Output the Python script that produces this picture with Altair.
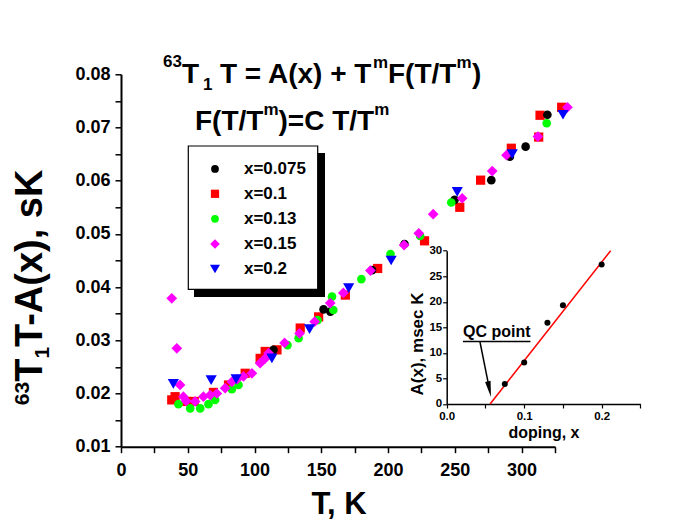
import altair as alt
import pandas as pd

FONT = "Liberation Sans"

# ---------------- data ----------------
series = ["x=0.075", "x=0.1", "x=0.13", "x=0.15", "x=0.2"]
colors = ["#000000", "#ff0000", "#00ff00", "#ff00ff", "#0000ff"]
shapes = ["circle", "square", "circle", "diamond", "triangle-down"]
sizes = [75, 85, 75, 115, 125]

T_0075 = [114.2, 151.7, 156.8, 188, 212.3, 249.8, 277.3, 291.2, 303, 319.3]
v_0075 = [0.0282, 0.0358, 0.0354, 0.0432, 0.0481, 0.0564, 0.0601, 0.0645, 0.0664, 0.0724]

T_01 = [38, 40.5, 49.3, 54.8, 69.2, 80.5, 93, 104.2, 108, 116.8, 134.2, 148, 168, 192.2,
        227.3, 253.7, 269.3, 292.3, 312.8, 313.8, 330]
v_01 = [0.0188, 0.0194, 0.0185, 0.0185, 0.0202, 0.0216, 0.0238, 0.0266, 0.0279, 0.0282,
        0.0323, 0.0344, 0.0385, 0.0435, 0.0487, 0.0550, 0.0601, 0.0661, 0.0682, 0.0723, 0.0738]

T_013 = [43, 51.8, 59.3, 65.5, 70.5, 83, 88, 124.7, 133, 147.2, 158, 159, 180, 201.8,
         224, 247.3, 318.8]
v_013 = [0.0180, 0.0172, 0.0172, 0.0180, 0.0188, 0.0208, 0.0216, 0.0291, 0.0304, 0.0338,
         0.0382, 0.0357, 0.0415, 0.0462, 0.0496, 0.0559, 0.0708]

T_015 = [38, 41.8, 44.2, 46.7, 48.8, 55.5, 61.7, 66.8, 71.8, 78, 83, 87, 91.7, 98, 104.2,
         108, 110.5, 122.5, 133.7, 145, 156.7, 166.5, 186.8, 212, 223, 233.8, 255.5, 278,
         288.7, 312.2, 334.3]
v_015 = [0.0379, 0.0285, 0.0216, 0.0194, 0.0186, 0.0185, 0.0194, 0.0197, 0.0200, 0.0210,
         0.0222, 0.0227, 0.0232, 0.0238, 0.0257, 0.0266, 0.0276, 0.0295, 0.0313, 0.0335,
         0.0370, 0.0389, 0.0431, 0.0479, 0.0501, 0.0537, 0.0567, 0.0618, 0.0648, 0.0683, 0.0738]

T_02 = [39.2, 67.5, 86.2, 113, 141.2, 170.5, 202.3, 251.8, 293, 331]
v_02 = [0.0218, 0.0225, 0.0227, 0.0266, 0.0321, 0.0398, 0.0450, 0.0579, 0.0650, 0.0724]

x_ticks = list(range(0, 326, 25))
y_ticks = [0.01, 0.015, 0.02, 0.025, 0.03, 0.035, 0.04, 0.045, 0.05, 0.055, 0.06, 0.065,
           0.07, 0.075, 0.08]

# inset
doping = [0.075, 0.1, 0.13, 0.15, 0.2]
A_msecK = [3.9, 8.1, 15.9, 19.3, 27.3]
fit_doping = [0.056, 0.2116]
fit_A = [0.0, 30.0]
inset_x_ticks = [0.0, 0.05, 0.1, 0.15, 0.2, 0.25]
inset_y_ticks = [0, 5, 10, 15, 20, 25, 30]

# ---------------- tables ----------------
all_T = [T_0075, T_01, T_013, T_015, T_02]
all_v = [v_0075, v_01, v_013, v_015, v_02]
frames = []
for s, T, v in zip(series, all_T, all_v):
    frames.append(pd.DataFrame({"T": T, "v": v, "series": s}))
df = pd.concat(frames, ignore_index=True)

inset_pts = pd.DataFrame({"d": doping, "A": A_msecK})
inset_fit = pd.DataFrame({"d": fit_doping, "A": fit_A})
one = pd.DataFrame({"k": [0]})

W, H = 434, 372.4

x_main = alt.X("T:Q", scale=alt.Scale(domain=[0, 325], nice=False, zero=False),
               axis=alt.Axis(orient="bottom", values=x_ticks, title=None,
                             labelExpr="datum.value % 50 == 0 ? datum.label : ''",
                             tickSize=6, tickWidth=1.5, domainWidth=2, labelPadding=9,
                             labelFontSize=18, labelFontWeight="bold", labelFont=FONT,
                             labelColor="black", tickColor="black", domainColor="black",
                             grid=False, labelFlush=False, labelOverlap=False))
y_main = alt.Y("v:Q", scale=alt.Scale(domain=[0.01, 0.08], nice=False, zero=False),
               axis=alt.Axis(orient="left", values=y_ticks, title=None,
                             labelExpr="abs(datum.value*100 - round(datum.value*100)) < 0.01 ? format(datum.value, '.2f') : ''",
                             tickSize=6, tickWidth=1.5, domainWidth=2, labelPadding=5,
                             labelFontSize=18, labelFontWeight="bold", labelFont=FONT,
                             labelColor="black", tickColor="black", domainColor="black",
                             grid=False, labelFlush=False, labelOverlap=False))

draw_order = [1, 0, 2, 3, 4]
main_layers = []
for i in draw_order:
    main_layers.append(
        alt.Chart(df).transform_filter(alt.datum.series == series[i])
        .mark_point(shape=shapes[i], size=sizes[i], filled=True, color=colors[i], opacity=1,
                    strokeWidth=0)
        .encode(x=x_main, y=y_main)
    )
main = alt.layer(*main_layers)

# inset
x_in = alt.X("d:Q", scale=alt.Scale(domain=[0, 0.25], range=[325.7, 519.4], nice=False, zero=False),
             axis=alt.Axis(orient="bottom", offset=329.7 - H, values=inset_x_ticks, title=None,
                           labelExpr="abs(datum.value*10 - round(datum.value*10)) < 0.01 ? format(datum.value, '.1f') : ''",
                           tickSize=4, tickWidth=1.2, domainWidth=1.5, labelPadding=3,
                           labelFontSize=11.5, labelFontWeight="bold", labelFont=FONT,
                           labelColor="black", tickColor="black", domainColor="black",
                           grid=False, labelFlush=False, labelOverlap=False))
y_in = alt.Y("A:Q", scale=alt.Scale(domain=[0, 30], range=[329.7, 176.4], nice=False, zero=False),
             axis=alt.Axis(orient="left", offset=-325.7, values=inset_y_ticks, title=None,
                           tickSize=4, tickWidth=1.2, domainWidth=1.5, labelPadding=1,
                           labelFontSize=11.5, labelFontWeight="bold", labelFont=FONT,
                           labelColor="black", tickColor="black", domainColor="black",
                           grid=False, labelFlush=False, labelOverlap=False))
inset = alt.layer(
    alt.Chart(inset_fit).mark_line(color="#ff0000", strokeWidth=1.5).encode(x=x_in, y=y_in),
    alt.Chart(inset_pts).mark_circle(color="black", size=36, opacity=1).encode(x=x_in, y=y_in),
)


def txt(s, x, y, size, angle=0, align="left", baseline="alphabetic", weight="bold"):
    return alt.Chart(one).mark_text(text=s, fontSize=size, fontWeight=weight, font=FONT,
                                    align=align, baseline=baseline, angle=angle,
                                    color="black").encode(x=alt.value(x), y=alt.value(y))


texts = [
    # formula line 1
    txt("63", 61, -7, 17, align="right"),
    txt("T", 61, 9, 28),
    txt("1", 82, 16, 17),
    txt("T = A(x) + T", 99, 9, 28),
    txt("m", 252, -6, 17),
    txt("F(T/T", 267, 9, 28),
    txt("m", 335.5, -6, 17),
    txt(")", 351, 9, 28),
    # formula line 2
    txt("F(T/T", 74, 55.7, 28),
    txt("m", 142.4, 40.7, 17),
    txt(")=C T/T", 157.5, 55.7, 28),
    txt("m", 253.2, 40.7, 17),
    # axis titles
    txt("T, K", 218, 440, 31, align="center"),
    txt("63", -92, 330.9, 21, angle=270),
    txt("T", -79, 307.5, 38, angle=270),
    txt("1", -72, 284.3, 21, angle=270),
    txt("T-A(x), sK", -79, 272.6, 38, angle=270),
    # inset titles / annotation
    txt("A(x), msec K", 302, 269.7, 17, angle=270, align="center"),
    txt("doping, x", 423, 363.5, 16, align="center"),
    txt("QC point", 342, 262.7, 16),
]

underline = alt.Chart(one).mark_rule(color="black", strokeWidth=1.5).encode(
    x=alt.value(342), x2=alt.value(409.5), y=alt.value(267.2))
shaft = alt.Chart(one).mark_rule(color="black", strokeWidth=1.5).encode(
    x=alt.value(359), y=alt.value(267.7), x2=alt.value(368.5), y2=alt.value(315))
head = alt.Chart(one).mark_point(shape="M-0.35,-1L0,1L0.35,-1Z", size=256, filled=True,
                                 color="black", opacity=1, angle=348.7, strokeWidth=0).encode(
    x=alt.value(368.4), y=alt.value(314.9))

# legend (box with shadow)
shadow = alt.Chart(one).mark_rect(color="black").encode(
    x=alt.value(73), x2=alt.value(204), y=alt.value(78.7), y2=alt.value(222.7))
box = alt.Chart(one).mark_rect(fill="white", stroke="black", strokeWidth=1.2).encode(
    x=alt.value(67.3), x2=alt.value(196.7), y=alt.value(71.7), y2=alt.value(215))
row_y = [94.7, 119.5, 144.5, 169.7, 194.7]
legend_layers = [shadow, box]
for i in range(5):
    legend_layers.append(
        alt.Chart(one).mark_point(shape=shapes[i], size=sizes[i] * 0.8, filled=True,
                                  color=colors[i], opacity=1, strokeWidth=0)
        .encode(x=alt.value(94), y=alt.value(row_y[i])))
    legend_layers.append(txt(series[i], 123, row_y[i], 17, baseline="middle"))

chart = alt.layer(main, inset, *legend_layers, *texts, underline, shaft, head).resolve_scale(
    x="independent", y="independent"
).properties(
    width=W, height=H,
    padding={"left": 113, "top": 66.3, "right": 118, "bottom": 76},
    autosize=alt.AutoSizeParams(type="none"),
    background="white",
).configure_view(stroke=None)

chart.save("out.html", embed_options={"renderer": "svg", "actions": False})
